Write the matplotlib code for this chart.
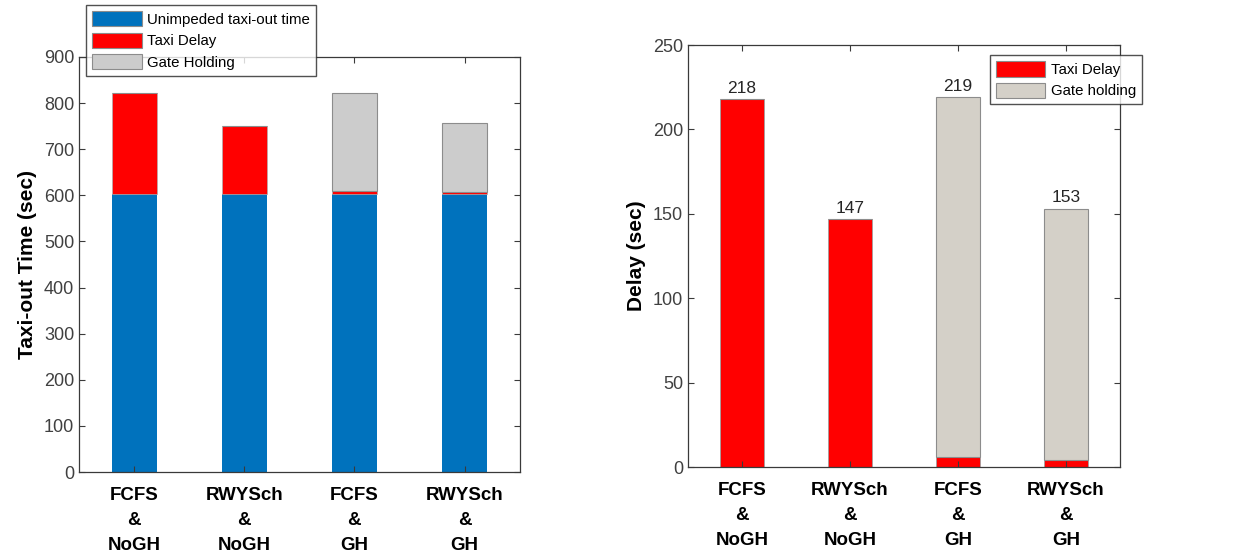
import numpy as np
import matplotlib.pyplot as plt

plt.rcParams['font.family'] = ['Liberation Sans', 'DejaVu Sans']

# data
categories = ['FCFS\n&\nNoGH', 'RWYSch\n&\nNoGH', 'FCFS\n&\nGH', 'RWYSch\n&\nGH']
unimpeded = np.array([603, 603, 603, 603])
taxi_delay = np.array([218, 147, 6, 4])
gate_holding = np.array([0, 0, 213, 149])

x = np.arange(1, len(categories) + 1)
w = 0.41
blue = '#0072BD'
red = '#FF0000'
grey_l = '#CCCCCC'
grey_r = '#D4D0C8'
edge = '#8C8C8C'
axcol = '#3A3A3A'
tickcol = '#404040'

fig = plt.figure(figsize=(12.43, 5.56), dpi=100)
ax1 = fig.add_axes([0.0636, 0.151, 0.3544, 0.7465])
ax2 = fig.add_axes([0.5535, 0.160, 0.3475, 0.759])


def style(ax, ylim, yticks, ylabel):
    ax.set_xlim(0.5, 4.5)
    ax.set_ylim(*ylim)
    ax.set_yticks(yticks)
    ax.set_xticks(x)
    ax.set_xticklabels(categories, fontsize=13.5, fontweight='bold',
                       linespacing=1.6, color='black')
    ax.set_ylabel(ylabel, fontsize=15, fontweight='bold', labelpad=5)
    ax.tick_params(axis='y', labelsize=13, labelcolor=tickcol,
                   direction='in', length=4, right=True, color=axcol)
    ax.tick_params(axis='x', direction='in', length=4, top=True,
                   pad=11, color=axcol)
    for s in ax.spines.values():
        s.set_color(axcol)
        s.set_linewidth(0.9)


def legend_style(leg):
    leg.get_frame().set_edgecolor('#262626')
    leg.get_frame().set_linewidth(1.0)
    for h in leg.legend_handles:
        h.set_edgecolor(edge)
        h.set_linewidth(0.8)


leg_kw = dict(fontsize=10.8, frameon=True, fancybox=False, borderaxespad=0,
              handlelength=3.3, handleheight=1.2, borderpad=0.4,
              labelspacing=0.38, handletextpad=0.35)

# left: stacked taxi-out time
ax1.bar(x, unimpeded, w, color=blue, label='Unimpeded taxi-out time')
ax1.bar(x, taxi_delay, w, bottom=unimpeded, color=red, edgecolor='#B0B0B0',
        linewidth=0.5, label='Taxi Delay')
ax1.bar(x, gate_holding, w, bottom=unimpeded + taxi_delay, color=grey_l,
        edgecolor=edge, linewidth=0.8, label='Gate Holding')
style(ax1, (0, 900), np.arange(0, 901, 100), 'Taxi-out Time (sec)')
leg1 = ax1.legend(loc='upper left', bbox_to_anchor=(0.016, 1.125), **leg_kw)
legend_style(leg1)

# right: delay only
ax2.bar(x, taxi_delay, w, color=red, edgecolor='#A0A0A0', linewidth=0.6,
        label='Taxi Delay')
ax2.bar(x, gate_holding, w, bottom=taxi_delay, color=grey_r, edgecolor=edge,
        linewidth=0.8, label='Gate holding')
totals = taxi_delay + gate_holding
for xi, t in zip(x, totals):
    ax2.text(xi, t + 2.0, str(t), ha='center', va='bottom', fontsize=12.5,
             color='#262626')
style(ax2, (0, 250), np.arange(0, 251, 50), 'Delay (sec)')
leg2 = ax2.legend(loc='upper right', bbox_to_anchor=(1.051, 0.976), **leg_kw)
legend_style(leg2)

fig.savefig('out.png', dpi=100)
